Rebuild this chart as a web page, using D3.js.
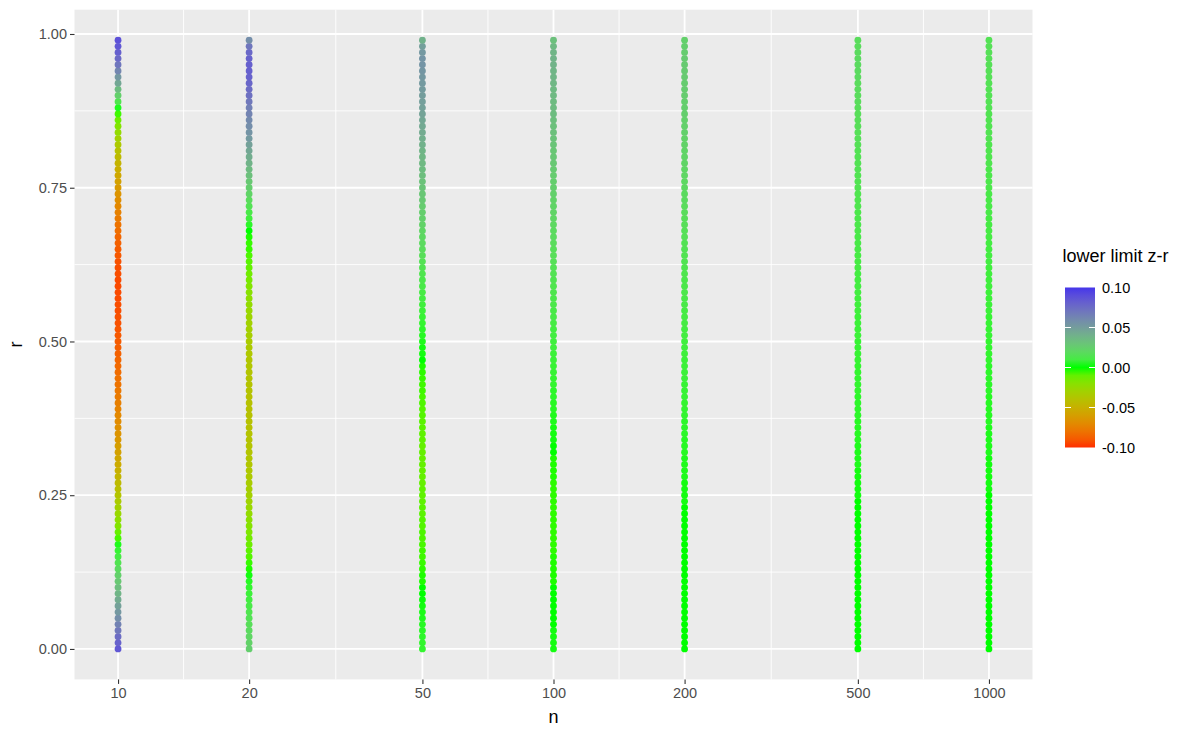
<!DOCTYPE html>
<html>
<head>
<meta charset="utf-8">
<script src="https://cdn.jsdelivr.net/npm/d3@7/dist/d3.min.js"></script>
<style>
  html, body { margin: 0; padding: 0; background: #ffffff; }
  svg { display: block; }
  text { font-family: "Liberation Sans", Arial, Helvetica, sans-serif; }
</style>
</head>
<body>
<svg id="chart" width="1200" height="735"></svg>
<script>
// ---------------- data ----------------
const nValues = [10, 20, 50, 100, 200, 500, 1000];
const xTickLabels = ["10", "20", "50", "100", "200", "500", "1000"];
const yTickValues = [0, 0.25, 0.5, 0.75, 1];
const yTickLabels = ["0.00", "0.25", "0.50", "0.75", "1.00"];
const legendBreaks = [-0.10, -0.05, 0.00, 0.05, 0.10];
const legendLabels = ["-0.10", "-0.05", "0.00", "0.05", "0.10"];

const rValues = [
  0.00,0.01,0.02,0.03,0.04,0.05,0.06,0.07,0.08,0.09,
  0.10,0.11,0.12,0.13,0.14,0.15,0.16,0.17,0.18,0.19,
  0.20,0.21,0.22,0.23,0.24,0.25,0.26,0.27,0.28,0.29,
  0.30,0.31,0.32,0.33,0.34,0.35,0.36,0.37,0.38,0.39,
  0.40,0.41,0.42,0.43,0.44,0.45,0.46,0.47,0.48,0.49,
  0.50,0.51,0.52,0.53,0.54,0.55,0.56,0.57,0.58,0.59,
  0.60,0.61,0.62,0.63,0.64,0.65,0.66,0.67,0.68,0.69,
  0.70,0.71,0.72,0.73,0.74,0.75,0.76,0.77,0.78,0.79,
  0.80,0.81,0.82,0.83,0.84,0.85,0.86,0.87,0.88,0.89,
  0.90,0.91,0.92,0.93,0.94,0.95,0.96,0.97,0.98,0.99
];

const diff_n10 = [
  0.085,0.080,0.075,0.069,0.064,0.058,0.053,0.048,0.043,0.038,
  0.033,0.028,0.024,0.019,0.014,0.010,0.006,0.002,-0.005,-0.011,
  -0.018,-0.022,-0.026,-0.030,-0.034,-0.038,-0.041,-0.044,-0.047,-0.050,
  -0.053,-0.055,-0.058,-0.060,-0.063,-0.065,-0.067,-0.069,-0.071,-0.073,
  -0.075,-0.077,-0.078,-0.080,-0.081,-0.083,-0.084,-0.085,-0.087,-0.088,
  -0.089,-0.090,-0.091,-0.092,-0.092,-0.093,-0.093,-0.094,-0.094,-0.094,
  -0.094,-0.093,-0.093,-0.092,-0.090,-0.089,-0.087,-0.085,-0.082,-0.080,
  -0.077,-0.074,-0.071,-0.068,-0.065,-0.062,-0.058,-0.055,-0.051,-0.048,
  -0.044,-0.040,-0.035,-0.030,-0.024,-0.018,-0.012,-0.004,0.002,0.013,
  0.024,0.034,0.045,0.053,0.062,0.070,0.076,0.081,0.085,0.088
];
const diff_n20 = [
  0.025,0.023,0.021,0.019,0.017,0.015,0.013,0.011,0.009,0.007,
  0.005,0.003,0.001,-0.001,-0.003,-0.007,-0.009,-0.012,-0.014,-0.017,
  -0.019,-0.021,-0.024,-0.026,-0.029,-0.031,-0.032,-0.033,-0.035,-0.036,
  -0.037,-0.037,-0.038,-0.038,-0.039,-0.039,-0.040,-0.040,-0.040,-0.040,
  -0.040,-0.040,-0.039,-0.039,-0.038,-0.038,-0.037,-0.037,-0.036,-0.035,
  -0.034,-0.032,-0.031,-0.030,-0.028,-0.026,-0.024,-0.022,-0.020,-0.018,
  -0.015,-0.013,-0.010,-0.008,-0.006,-0.003,-0.003,-0.001,0.000,0.004,
  0.008,0.011,0.015,0.018,0.022,0.025,0.028,0.032,0.035,0.039,
  0.042,0.045,0.048,0.052,0.055,0.058,0.060,0.063,0.065,0.069,
  0.073,0.075,0.078,0.080,0.081,0.081,0.080,0.077,0.070,0.058
];
const diff_n50 = [
  0.005,0.0045,0.004,0.0035,0.003,0.002,0.0015,0.001,0.0005,0.000,
  0.000,-0.001,-0.001,-0.002,-0.003,-0.004,-0.004,-0.005,-0.006,-0.006,
  -0.007,-0.007,-0.008,-0.008,-0.009,-0.009,-0.009,-0.010,-0.010,-0.010,
  -0.010,-0.010,-0.010,-0.010,-0.009,-0.009,-0.008,-0.008,-0.007,-0.007,
  -0.006,-0.005,-0.004,-0.004,-0.003,-0.002,-0.001,0.000,0.001,0.001,
  0.002,0.003,0.004,0.005,0.006,0.007,0.008,0.009,0.010,0.011,
  0.012,0.013,0.014,0.015,0.017,0.018,0.019,0.020,0.021,0.023,
  0.024,0.025,0.026,0.028,0.029,0.030,0.031,0.033,0.034,0.036,
  0.037,0.038,0.040,0.041,0.043,0.044,0.045,0.047,0.048,0.049,
  0.050,0.051,0.052,0.053,0.054,0.055,0.055,0.053,0.049,0.040
];
const diff_n100 = [
  0.001,0.001,0.001,0.001,0.000,0.000,0.000,0.000,0.000,0.000,
  0.000,-0.001,-0.001,-0.001,-0.001,-0.001,-0.002,-0.002,-0.002,-0.002,
  -0.002,-0.002,-0.002,-0.002,-0.002,-0.002,-0.002,-0.002,-0.001,-0.001,
  -0.001,-0.001,0.000,0.000,0.001,0.001,0.001,0.002,0.002,0.003,
  0.003,0.004,0.004,0.005,0.005,0.006,0.006,0.007,0.007,0.008,
  0.008,0.009,0.009,0.010,0.011,0.011,0.012,0.012,0.013,0.013,
  0.014,0.015,0.015,0.016,0.017,0.017,0.018,0.019,0.019,0.020,
  0.021,0.022,0.022,0.023,0.024,0.025,0.025,0.026,0.027,0.028,
  0.029,0.029,0.030,0.031,0.032,0.032,0.033,0.034,0.035,0.035,
  0.036,0.036,0.037,0.038,0.038,0.039,0.039,0.038,0.036,0.032
];
const diff_n200 = [
  0.000,0.000,0.000,0.000,0.000,0.000,0.000,0.000,0.000,0.000,
  0.000,0.000,0.000,0.000,0.000,0.000,0.000,0.000,0.000,0.000,
  0.000,0.000,0.000,0.000,0.001,0.001,0.001,0.001,0.002,0.002,
  0.002,0.002,0.003,0.003,0.003,0.004,0.004,0.004,0.005,0.005,
  0.005,0.006,0.006,0.006,0.007,0.007,0.007,0.007,0.008,0.008,
  0.008,0.009,0.009,0.010,0.010,0.010,0.011,0.011,0.012,0.012,
  0.012,0.013,0.013,0.014,0.014,0.015,0.015,0.016,0.016,0.017,
  0.017,0.018,0.018,0.019,0.019,0.020,0.020,0.021,0.021,0.022,
  0.022,0.022,0.023,0.023,0.024,0.024,0.024,0.025,0.025,0.025,
  0.026,0.026,0.026,0.027,0.027,0.027,0.027,0.026,0.025,0.024
];
const diff_n500 = [
  0.000,0.000,0.000,0.000,0.000,0.000,0.000,0.000,0.000,0.000,
  0.000,0.000,0.000,0.000,0.000,0.000,0.000,0.000,0.000,0.000,
  0.000,0.000,0.000,0.000,0.000,0.001,0.001,0.001,0.001,0.001,
  0.002,0.002,0.002,0.002,0.003,0.003,0.003,0.003,0.004,0.004,
  0.004,0.004,0.005,0.005,0.005,0.005,0.005,0.006,0.006,0.006,
  0.006,0.007,0.007,0.007,0.007,0.008,0.008,0.008,0.009,0.009,
  0.009,0.009,0.010,0.010,0.010,0.011,0.011,0.011,0.012,0.012,
  0.012,0.012,0.013,0.013,0.013,0.014,0.014,0.014,0.015,0.015,
  0.015,0.015,0.016,0.016,0.016,0.017,0.017,0.017,0.017,0.018,
  0.018,0.018,0.018,0.019,0.019,0.019,0.019,0.019,0.018,0.018
];
const diff_n1000 = [
  0.000,0.000,0.000,0.000,0.000,0.000,0.000,0.000,0.000,0.000,
  0.000,0.000,0.000,0.000,0.000,0.000,0.000,0.000,0.000,0.000,
  0.000,0.000,0.000,0.000,0.000,0.000,0.001,0.001,0.001,0.001,
  0.001,0.001,0.002,0.002,0.002,0.002,0.002,0.003,0.003,0.003,
  0.003,0.003,0.004,0.004,0.004,0.004,0.004,0.005,0.005,0.005,
  0.005,0.006,0.006,0.006,0.006,0.007,0.007,0.007,0.007,0.008,
  0.008,0.008,0.008,0.009,0.009,0.009,0.009,0.010,0.010,0.010,
  0.010,0.011,0.011,0.011,0.011,0.012,0.012,0.012,0.012,0.013,
  0.013,0.013,0.013,0.014,0.014,0.014,0.014,0.014,0.015,0.015,
  0.015,0.015,0.015,0.016,0.016,0.016,0.016,0.016,0.016,0.015
];
const diffByN = [diff_n10, diff_n20, diff_n50, diff_n100, diff_n200, diff_n500, diff_n1000];

// ---------------- layout ----------------
const svg = d3.select("#chart");
const panel = { left: 74.5, right: 1032.5, top: 9.7, bottom: 679.4 };

const x = d3.scaleLog()
  .domain([10 / Math.pow(10, 0.1), 1000 * Math.pow(10, 0.1)])
  .range([panel.left, panel.right]);
const y = d3.scaleLinear()
  .domain([-0.0495, 1.0395])
  .range([panel.bottom, panel.top]);

const color = d3.scaleLinear()
  .domain([-0.1, 0, 0.1])
  .range(["#ff2e00", "#00ff00", "#4536ea"])
  .interpolate(d3.interpolateLab)
  .clamp(true);

// panel background
svg.append("rect")
  .attr("x", panel.left).attr("y", panel.top)
  .attr("width", panel.right - panel.left)
  .attr("height", panel.bottom - panel.top)
  .attr("fill", "#ebebeb");

const grid = svg.append("g");
// minor x grid: log midpoints between consecutive breaks
for (let i = 0; i < nValues.length - 1; i++) {
  const m = Math.sqrt(nValues[i] * nValues[i + 1]);
  grid.append("line")
    .attr("x1", x(m)).attr("x2", x(m))
    .attr("y1", panel.top).attr("y2", panel.bottom)
    .attr("stroke", "#ffffff").attr("stroke-width", 0.9);
}
// minor y grid
for (let i = 0; i < yTickValues.length - 1; i++) {
  const m = (yTickValues[i] + yTickValues[i + 1]) / 2;
  grid.append("line")
    .attr("x1", panel.left).attr("x2", panel.right)
    .attr("y1", y(m)).attr("y2", y(m))
    .attr("stroke", "#ffffff").attr("stroke-width", 0.9);
}
// major grid
nValues.forEach(n => {
  grid.append("line")
    .attr("x1", x(n)).attr("x2", x(n))
    .attr("y1", panel.top).attr("y2", panel.bottom)
    .attr("stroke", "#ffffff").attr("stroke-width", 1.8);
});
yTickValues.forEach(v => {
  grid.append("line")
    .attr("x1", panel.left).attr("x2", panel.right)
    .attr("y1", y(v)).attr("y2", y(v))
    .attr("stroke", "#ffffff").attr("stroke-width", 1.8);
});

// points
const pts = [];
nValues.forEach((n, i) => {
  rValues.forEach((r, j) => pts.push({ n: n, r: r, v: diffByN[i][j] }));
});
svg.append("g").selectAll("circle")
  .data(pts)
  .join("circle")
  .attr("cx", d => x(d.n))
  .attr("cy", d => y(d.r))
  .attr("r", 3.4)
  .attr("fill", d => color(d.v));

// axes
const xAxis = d3.axisBottom(x)
  .tickValues(nValues)
  .tickFormat((d, i) => xTickLabels[i])
  .tickSize(4.5).tickPadding(3);
const gx = svg.append("g")
  .attr("transform", `translate(0,${panel.bottom})`)
  .call(xAxis);
const yAxis = d3.axisLeft(y)
  .tickValues(yTickValues)
  .tickFormat((d, i) => yTickLabels[i])
  .tickSize(4.5).tickPadding(3);
const gy = svg.append("g")
  .attr("transform", `translate(${panel.left},0)`)
  .call(yAxis);
[gx, gy].forEach(g => {
  g.select(".domain").remove();
  g.selectAll(".tick line").attr("stroke", "#333333").attr("stroke-width", 1.1);
  g.selectAll(".tick text")
    .attr("fill", "#4d4d4d")
    .style("font-size", "14.5px")
    .style("font-family", "'Liberation Sans', Arial, sans-serif");
});
gx.selectAll(".tick text").attr("dy", "0.75em").attr("y", 8);

// axis titles
svg.append("text")
  .attr("x", (panel.left + panel.right) / 2)
  .attr("y", 723)
  .attr("text-anchor", "middle")
  .attr("fill", "#000000")
  .style("font-size", "18px")
  .text("n");
svg.append("text")
  .attr("transform", `translate(22,${(panel.top + panel.bottom) / 2}) rotate(-90)`)
  .attr("text-anchor", "middle")
  .attr("fill", "#000000")
  .style("font-size", "18px")
  .text("r");

// legend
const leg = { x: 1065, w: 30, top: 287.5, bottom: 447.5 };
const ly = d3.scaleLinear().domain([-0.1, 0.1]).range([leg.bottom, leg.top]);

svg.append("text")
  .attr("x", 1062.5)
  .attr("y", 262)
  .attr("fill", "#000000")
  .style("font-size", "18px")
  .text("lower limit z-r");

const defs = svg.append("defs");
const grad = defs.append("linearGradient")
  .attr("id", "cbar")
  .attr("x1", "0").attr("y1", "1").attr("x2", "0").attr("y2", "0");
d3.range(0, 21).forEach(k => {
  const v = -0.1 + k * 0.01;
  grad.append("stop")
    .attr("offset", (k / 20 * 100) + "%")
    .attr("stop-color", color(v));
});
svg.append("rect")
  .attr("x", leg.x).attr("y", leg.top)
  .attr("width", leg.w).attr("height", leg.bottom - leg.top)
  .attr("fill", "url(#cbar)");

legendBreaks.forEach((b, i) => {
  const yy = ly(b);
  if (b > -0.1 && b < 0.1) {
    svg.append("line")
      .attr("x1", leg.x).attr("x2", leg.x + 6)
      .attr("y1", yy).attr("y2", yy)
      .attr("stroke", "#ffffff").attr("stroke-width", 1);
    svg.append("line")
      .attr("x1", leg.x + leg.w - 6).attr("x2", leg.x + leg.w)
      .attr("y1", yy).attr("y2", yy)
      .attr("stroke", "#ffffff").attr("stroke-width", 1);
  }
  svg.append("text")
    .attr("x", 1102)
    .attr("y", yy)
    .attr("dy", "0.35em")
    .attr("fill", "#000000")
    .style("font-size", "14.5px")
    .text(legendLabels[i]);
});
</script>
</body>
</html>
